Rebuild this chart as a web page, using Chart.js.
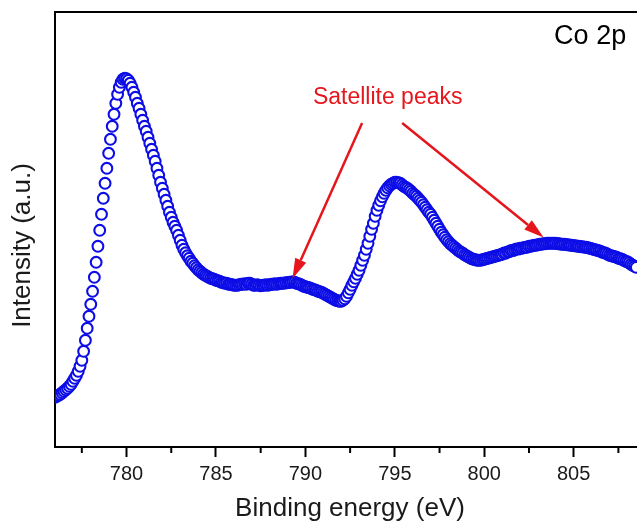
<!DOCTYPE html>
<html>
<head>
<meta charset="utf-8">
<script src="https://cdn.jsdelivr.net/npm/chart.js@4.4.0/dist/chart.umd.min.js"></script>
<style>
  html, body { margin: 0; padding: 0; background: #fff; }
  canvas { display: block; }
</style>
</head>
<body>
<canvas id="xps" width="637" height="524"></canvas>
<script>
////////////////////////////////////////////////////////////////////////
// Co 2p XPS spectrum (0.1 eV step)

const energyStart = 776.0
const energyStep = 0.1

// Intensity in counts, one row per eV (776.0 ... 808.5)
const intensity = [
    4970, 5070, 5170, 5270, 5420, 5570, 5720, 5870, 6070, 6270,
    6570, 6870, 7170, 7570, 8070, 8670, 9570, 10670, 11870, 13070,
    14270, 15570, 16970, 18470, 20070, 21670, 23270, 24870, 26370, 27870,
    29370, 30770, 32070, 33270, 34370, 35270, 35970, 36470, 36770, 36870,
    36820, 36670, 36370, 35970, 35470, 34970, 34370, 33870, 33270, 32670,
    32070, 31570, 30970, 30370, 29770, 29170, 28570, 27870, 27170, 26470,
    25870, 25270, 24670, 24070, 23470, 22970, 22470, 22070, 21670, 21170,
    20670, 20170, 19770, 19420, 19120, 18870, 18570, 18370, 18120, 17920,
    17720, 17570, 17420, 17270, 17170, 17070, 16970, 16870, 16820, 16770,
    16670, 16620, 16570, 16470, 16420, 16370, 16370, 16270, 16270, 16220,
    16170, 16170, 16170, 16220, 16270, 16270, 16320, 16270, 16370, 16370,
    16270, 16170, 16170, 16220, 16170, 16120, 16170, 16170, 16220, 16170,
    16220, 16270, 16270, 16320, 16270, 16320, 16370, 16370, 16370, 16420,
    16420, 16470, 16470, 16520, 16470, 16370, 16320, 16270, 16170, 16070,
    16020, 15970, 15920, 15870, 15770, 15720, 15670, 15570, 15520, 15470,
    15370, 15270, 15170, 15070, 14970, 14870, 14770, 14670, 14620, 14570,
    14570, 14670, 14820, 15070, 15420, 15770, 16170, 16520, 16870, 17270,
    17670, 18170, 18670, 19170, 19770, 20370, 21070, 21770, 22370, 23070,
    23670, 24170, 24620, 25020, 25370, 25670, 25920, 26120, 26270, 26370,
    26470, 26470, 26420, 26370, 26220, 26070, 25970, 25870, 25720, 25570,
    25370, 25220, 25070, 24870, 24670, 24470, 24220, 23970, 23720, 23470,
    23270, 22970, 22670, 22370, 22070, 21770, 21470, 21220, 20970, 20720,
    20520, 20320, 20170, 20020, 19870, 19720, 19570, 19470, 19370, 19220,
    19120, 19020, 18920, 18820, 18770, 18720, 18670, 18670, 18670, 18720,
    18770, 18820, 18870, 18920, 18970, 19020, 19070, 19120, 19170, 19220,
    19270, 19400, 19380, 19500, 19540, 19650, 19640, 19730, 19800, 19790,
    19870, 19870, 19920, 19970, 19970, 20070, 20070, 20120, 20170, 20170,
    20220, 20270, 20270, 20320, 20320, 20370, 20370, 20370, 20370, 20370,
    20370, 20320, 20320, 20270, 20270, 20270, 20220, 20220, 20170, 20170,
    20120, 20120, 20070, 20070, 20020, 20020, 19970, 19970, 19920, 19870,
    19820, 19770, 19720, 19670, 19620, 19570, 19470, 19420, 19370, 19270,
    19170, 19120, 19070, 19020, 18970, 18870, 18820, 18770, 18670, 18570,
    18520, 18420, 18270, 18170, 18070, 17970
]

// Axis ticks (eV)
const majorTicks = [780, 785, 790, 795, 800, 805]
const minorTicks = [777.5, 782.5, 787.5, 792.5, 797.5, 802.5, 807.5]

// Labels
const panelLabel = "Co 2p"
const satelliteLabel = "Satellite peaks"
const xTitle = "Binding energy (eV)"
const yTitle = "Intensity (a.u.)"

////////////////////////////////////////////////////////////////////////
// Annotation layout (data coordinates)
const labelAt = { x: 794.6, y: 34900 }
const panelAt = { x: 805.92, y: 41000 }
const arrows = [
    { from: { x: 793.17, y: 32400 }, to: { x: 789.28, y: 16850 } },
    { from: { x: 795.41, y: 32400 }, to: { x: 803.32, y: 20950 } }
]

const FONT = '"Liberation Sans", Arial, sans-serif'
const RED = '#e5161c'

/**
 * Draws a straight arrow with a filled head.
 */
function drawArrow(ctx, x1, y1, x2, y2) {
    const headLen = 20
    const headHalf = 6
    const ang = Math.atan2(y2 - y1, x2 - x1)
    const bx = x2 - headLen * Math.cos(ang)
    const by = y2 - headLen * Math.sin(ang)
    ctx.strokeStyle = RED
    ctx.fillStyle = RED
    ctx.lineWidth = 2.5
    ctx.beginPath()
    ctx.moveTo(x1, y1)
    ctx.lineTo(bx, by)
    ctx.stroke()
    ctx.beginPath()
    ctx.moveTo(x2, y2)
    ctx.lineTo(bx + headHalf * Math.sin(ang), by - headHalf * Math.cos(ang))
    ctx.lineTo(bx - headHalf * Math.sin(ang), by + headHalf * Math.cos(ang))
    ctx.closePath()
    ctx.fill()
}

/**
 * Top frame line, minor ticks, axis titles and annotations.
 */
const framePlugin = {
    id: 'frame',
    afterDraw(chart) {
        const { ctx, chartArea: area } = chart
        const xs = chart.scales.x
        const ys = chart.scales.y
        ctx.save()

        ctx.strokeStyle = '#000'
        ctx.lineWidth = 2
        ctx.beginPath()
        ctx.moveTo(area.left - 1, area.top)
        ctx.lineTo(area.right, area.top)
        ctx.stroke()

        minorTicks.forEach(v => {
            const px = xs.getPixelForValue(v)
            ctx.beginPath()
            ctx.moveTo(px, area.bottom)
            ctx.lineTo(px, area.bottom + 6)
            ctx.stroke()
        })

        ctx.fillStyle = '#1a1a1a'
        ctx.font = '26px ' + FONT
        ctx.textAlign = 'center'
        ctx.textBaseline = 'middle'
        ctx.fillText(xTitle, (area.left + area.right) / 2 + 4, chart.height - 15)
        ctx.save()
        ctx.translate(area.left - 32, (area.top + area.bottom) / 2 + 16)
        ctx.rotate(-Math.PI / 2)
        ctx.fillText(yTitle, 0, 0)
        ctx.restore()

        ctx.fillStyle = '#000'
        ctx.font = '27px ' + FONT
        ctx.fillText(panelLabel, xs.getPixelForValue(panelAt.x), ys.getPixelForValue(panelAt.y))

        ctx.fillStyle = RED
        ctx.font = '23px ' + FONT
        ctx.fillText(satelliteLabel, xs.getPixelForValue(labelAt.x), ys.getPixelForValue(labelAt.y))

        arrows.forEach(a => {
            drawArrow(ctx,
                xs.getPixelForValue(a.from.x), ys.getPixelForValue(a.from.y),
                xs.getPixelForValue(a.to.x), ys.getPixelForValue(a.to.y))
        })

        ctx.restore()
    }
}

const points = intensity.map((v, i) => ({
    x: +(energyStart + i * energyStep).toFixed(1),
    y: v
}))

new Chart(document.getElementById('xps'), {
    type: 'scatter',
    data: {
        datasets: [{
            label: "Co 2p",
            data: points,
            showLine: false,
            pointRadius: 5.4,
            pointHoverRadius: 5.4,
            pointBorderWidth: 2.1,
            pointBorderColor: '#0d0de6',
            pointBackgroundColor: '#ffffff'
        }]
    },
    options: {
        responsive: false,
        animation: false,
        devicePixelRatio: 1,
        events: [],
        layout: {
            autoPadding: false,
            padding: { top: 12, left: 0, right: 0, bottom: 0 }
        },
        plugins: {
            legend: { display: false },
            tooltip: { enabled: false }
        },
        scales: {
            x: {
                type: 'linear',
                min: 776,
                max: 808.54,
                afterFit: scale => {
                    scale.height = 77
                    scale.paddingLeft = 0
                    scale.paddingRight = 0
                },
                afterBuildTicks: scale => { scale.ticks = majorTicks.map(v => ({ value: v })) },
                ticks: {
                    font: { family: FONT, size: 20 },
                    color: '#1a1a1a',
                    padding: 5,
                    maxRotation: 0
                },
                grid: {
                    drawOnChartArea: false,
                    drawTicks: true,
                    tickLength: 10,
                    tickWidth: 2,
                    tickColor: '#000'
                },
                border: { color: '#000', width: 2 }
            },
            y: {
                type: 'linear',
                min: 0,
                max: 43500,
                afterFit: scale => {
                    scale.width = 55
                    scale.paddingTop = 0
                    scale.paddingBottom = 0
                },
                ticks: { display: false },
                grid: { drawOnChartArea: false, drawTicks: false },
                border: { color: '#000', width: 2 }
            }
        }
    },
    plugins: [framePlugin]
})
</script>
</body>
</html>
